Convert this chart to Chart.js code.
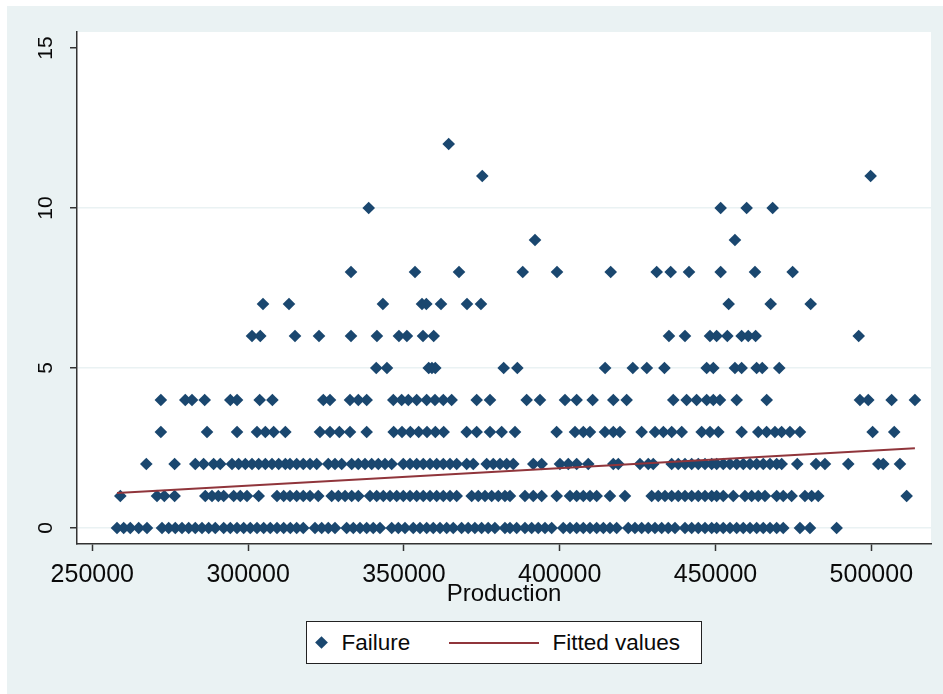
<!DOCTYPE html>
<html>
<head>
<meta charset="utf-8">
<script src="https://cdn.jsdelivr.net/npm/chart.js@4"></script>
<style>
  html, body { margin: 0; padding: 0; background: #fff; }
  #frame { position: absolute; left: 7px; top: 6px; width: 936px; height: 688px; background: #EAF2F3; }
  #wrap { position: absolute; left: 0; top: 0; width: 943px; height: 694px; }
  #legend { position: absolute; left: 306px; top: 621px; width: 394px; height: 41px; background: #fff;
            border: 1.5px solid #222; font-family: "Liberation Sans", Arial, sans-serif; font-size: 22.5px; color: #0a0a0a; }
  #legend .lbl { position: absolute; top: 0; line-height: 41px; white-space: nowrap; }
  #legend .diamond { position: absolute; left: 10px; top: 15.5px; width: 9px; height: 9px; background: #1A476F; transform: rotate(45deg); }
  #legend .fitline { position: absolute; left: 141.5px; top: 19.5px; width: 90px; height: 2px; background: #90353B; }
</style>
</head>
<body>
<div id="frame"></div>
<div id="wrap"><canvas id="failChart"></canvas></div>
<div id="legend">
  <span class="diamond"></span>
  <span class="lbl" style="left:34.5px">Failure</span>
  <span class="fitline"></span>
  <span class="lbl" style="left:245.5px">Fitted values</span>
</div>
<script>
// Production values for each failure count
const fail0 = [257930, 260080, 262190, 264890, 267550, 272370, 274520, 276630, 278780, 280930, 283050, 285200, 287350, 289470, 292170, 294290, 296430, 298580, 300700, 302850, 305000, 307120, 309270, 311420, 313540,
  315590, 317710, 321460, 323610, 325730, 327880, 331630, 333760, 335910, 338050, 340170, 342320, 346080, 348210, 350350, 353010, 355160, 357310, 359430, 361580, 363730, 365840, 368510, 370630, 372780, 374930, 377050, 379200, 382430,
  384040, 386190, 388850, 391000, 393120, 395270, 397420, 401140, 403300, 405440, 407570, 409710, 411860, 414010, 416130, 418280, 422000, 424150, 426300, 428420, 430570, 432720, 434840, 436990, 440200, 442350, 444470, 446620, 448770,
  450370, 452490, 454640, 456790, 458910, 461060, 463210, 465330, 467480, 469630, 471740, 477100, 480310, 488870];
const fail1 = [258990, 270760, 273110, 276420, 286260, 288410, 290440, 292170, 295370, 297490, 299640, 303400, 309270, 311420,
  313440, 315590, 317710, 319860, 322520, 326820, 328960, 331110, 333250, 335370, 339120, 341270, 343390, 345540, 347690, 349810, 351960, 354100, 356220, 358370, 360520, 362640, 364790, 366940, 371750, 373870, 376020, 378170, 380290, 382430,
  384040, 388850, 391520, 394210, 399030, 403300, 405440, 407570, 409710, 411860, 416130, 420940, 429510, 431630, 433780, 435930, 438050, 440200, 442350, 444470, 446620, 448770,
  450370, 452490, 455700, 459450, 461600, 463720, 465870, 469630, 471740, 474420, 478700, 480850, 482970, 511340];
const fail2 = [267330, 276420, 283050, 285720, 288930, 291070, 294830, 296970, 299110, 301250, 303400, 305530, 307670, 309820, 311950,
  313440, 315590, 317710, 319860, 322010, 325730, 327880, 330030, 333240, 335360, 337510, 339660, 341780, 343930, 346080, 349800, 351950, 354100, 356220, 358370, 360520, 362640, 364790, 366940, 370150, 372260, 376560, 378680, 380830, 382980,
  385100, 391520, 394210, 400080, 402750, 405440, 409160, 417190, 418800, 425750, 428420, 430020, 435930, 438050, 440200, 442350, 444470, 446620, 448770,
  450370, 452490, 454640, 456790, 458910, 461060, 463210, 465330, 467480, 469630, 471230, 476230, 482240, 485120, 492600, 502230, 503830, 509190];
const fail3 = [272000, 286820, 296450, 302850, 305530, 308200, 311950, 323060, 326280, 329280, 332700, 338050, 346710, 349390, 352060, 354740, 357410, 360090, 362760, 370140, 373350, 377630, 381370, 385650,
  399010, 404900, 407570, 409710, 414520, 417200, 419340, 426290, 430590, 433270, 435940, 439150, 445550, 448220, 450900, 458380, 463720, 466390, 469070, 471210, 473890, 477100, 500420, 507350];
const fail4 = [272000, 279840, 282000, 286070, 294290, 296450, 303720, 307790, 324130, 326280, 332700, 335370, 338050, 346600, 349280, 351420, 354100, 357300, 359970, 362640, 365320, 373350, 377630,
  389390, 393670, 401690, 405440, 410570, 417200, 421480, 436440, 440720, 443930, 447160, 449290, 451430, 456790, 466420, 496350, 499020, 506510, 513990];
const fail5 = [341130, 344560, 357960, 359000, 360070, 382020, 386400, 414570, 423460, 427950, 433610, 447160, 449290, 456230, 458380, 463190, 465000, 470450];
const fail6 = [301250, 303910, 315050, 322750, 333020, 341340, 348400, 350960, 356120, 359560, 435060, 440200, 448220, 450360, 453790, 458380, 460510, 462870, 495950];
const fail7 = [304780, 313120, 343260, 355800, 357190, 361900, 370240, 374730, 454220, 467700, 480540];
const fail8 = [333020, 353560, 367680, 388130, 399130, 416360, 431120, 435610, 441490, 451650, 462660, 474750];
const fail9 = [392070, 456230];
const fail10 = [338700, 451650, 459990, 468340];
const fail11 = [375150, 499780];
const fail12 = [364370];

// fitted regression line, end points
const fitX = [257930, 513990];
const fitY = [1.09, 2.49];

const xTicks = [250000, 300000, 350000, 400000, 450000, 500000];
const yTicks = [0, 5, 10, 15];

const failRows = [fail0, fail1, fail2, fail3, fail4, fail5, fail6, fail7, fail8, fail9, fail10, fail11, fail12];
const failurePoints = [];
failRows.forEach((row, count) => row.forEach(p => failurePoints.push({ x: p, y: count })));
const fitPoints = fitX.map((x, i) => ({ x: x, y: fitY[i] }));

const FONT = '"Liberation Sans", Arial, sans-serif';
Chart.defaults.font.family = FONT;
Chart.defaults.color = '#0a0a0a';

const plotBg = {
  id: 'plotBg',
  beforeDraw(chart) {
    const { ctx, chartArea: a } = chart;
    ctx.save();
    ctx.fillStyle = '#fff';
    ctx.fillRect(a.left, a.top, a.right - a.left, a.bottom - a.top);
    ctx.restore();
  }
};

new Chart(document.getElementById('failChart'), {
  type: 'scatter',
  data: {
    datasets: [
      {
        label: 'Fitted values',
        data: fitPoints,
        showLine: true,
        borderColor: '#90353B',
        borderWidth: 2,
        pointRadius: 0,
        fill: false
      },
      {
        label: 'Failure',
        data: failurePoints,
        pointStyle: 'rectRot',
        pointRadius: 6.3,
        backgroundColor: '#1A476F',
        borderWidth: 0
      }
    ]
  },
  options: {
    responsive: true,
    maintainAspectRatio: false,
    animation: false,
    events: [],
    layout: { padding: { left: 0, top: 32, right: 12, bottom: 0 } },
    plugins: {
      legend: { display: false },
      tooltip: { enabled: false }
    },
    scales: {
      x: {
        type: 'linear',
        min: 245090,
        max: 519150,
        afterBuildTicks: s => { s.ticks = xTicks.map(v => ({ value: v })); },
        afterFit: s => { s.height = 150; },
        grid: { drawOnChartArea: false, tickLength: 7, tickColor: '#333', tickWidth: 1.5 },
        border: { color: '#333', width: 1.5 },
        ticks: { padding: 9, maxRotation: 0, autoSkip: false, font: { size: 25 }, callback: v => String(v) },
        title: { display: true, text: 'Production', font: { size: 24 }, padding: { top: 0, bottom: 85 } }
      },
      y: {
        min: -0.5,
        max: 15.5,
        afterBuildTicks: s => { s.ticks = yTicks.map(v => ({ value: v })); },
        afterFit: s => { s.width = 77; },
        grid: {
          color: c => (c.tick && c.tick.value === 15) ? 'rgba(0,0,0,0)' : '#EAF2F3',
          lineWidth: 1.5,
          tickLength: 7,
          tickColor: '#333',
          tickWidth: 1.5
        },
        border: { color: '#333', width: 1.5 },
        ticks: { minRotation: 90, maxRotation: 90, crossAlign: 'center', padding: 12, font: { size: 21 } }
      }
    }
  },
  plugins: [plotBg]
});
</script>
</body>
</html>
